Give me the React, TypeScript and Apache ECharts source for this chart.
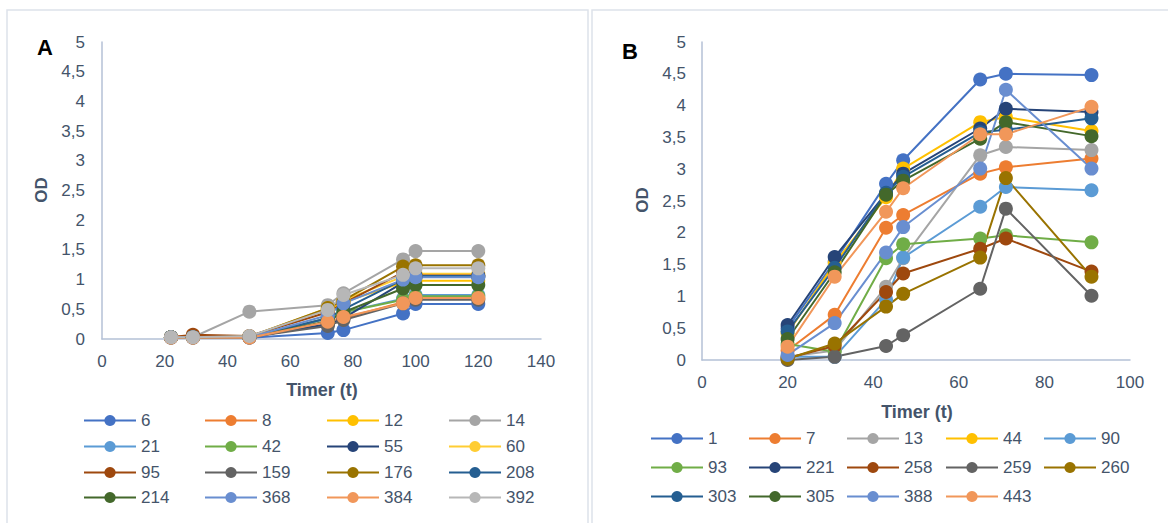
import React, { useEffect, useRef } from "react";
import * as echarts from "echarts";

// ---------- Panel A data ----------
const timesA = [22, 29, 47, 72, 77, 96, 100, 120];
const namesA = ["6", "8", "12", "14", "21", "42", "55", "60", "95", "159", "176", "208", "214", "368", "384", "392"];
const colorsA = ["#4472C4", "#ED7D31", "#FFC000", "#A5A5A5", "#5B9BD5", "#70AD47", "#264478", "#FFCD33", "#9E480E", "#636363", "#997300", "#255E91", "#43682B", "#698ED0", "#F1975A", "#B7B7B7"];
const a6 = [0.02, 0.02, 0.02, 0.1, 0.15, 0.43, 0.59, 0.59];
const a8 = [0.03, 0.06, 0.03, 0.25, 0.35, 0.62, 0.68, 0.68];
const a12 = [0.03, 0.03, 0.04, 0.5, 0.62, 0.95, 0.98, 0.98];
const a14 = [0.03, 0.03, 0.46, 0.57, 0.77, 1.34, 1.48, 1.48];
const a21 = [0.03, 0.03, 0.03, 0.35, 0.45, 0.68, 0.74, 0.74];
const a42 = [0.03, 0.03, 0.03, 0.35, 0.45, 0.66, 0.72, 0.72];
const a55 = [0.03, 0.03, 0.03, 0.25, 0.35, 0.95, 1.05, 1.05];
const a60 = [0.03, 0.03, 0.04, 0.52, 0.65, 1.05, 1.1, 1.1];
const a95 = [0.03, 0.07, 0.05, 0.45, 0.6, 1.12, 1.07, 1.07];
const a159 = [0.03, 0.03, 0.03, 0.22, 0.32, 0.6, 0.66, 0.66];
const a176 = [0.03, 0.03, 0.04, 0.52, 0.65, 1.22, 1.24, 1.24];
const a208 = [0.03, 0.03, 0.03, 0.35, 0.5, 1.0, 1.06, 1.06];
const a214 = [0.03, 0.03, 0.03, 0.3, 0.45, 0.85, 0.91, 0.91];
const a368 = [0.03, 0.03, 0.03, 0.4, 0.6, 1.0, 1.04, 1.04];
const a384 = [0.02, 0.02, 0.02, 0.29, 0.37, 0.6, 0.69, 0.69];
const a392 = [0.03, 0.03, 0.05, 0.49, 0.74, 1.08, 1.19, 1.19];
const valuesA = [a6, a8, a12, a14, a21, a42, a55, a60, a95, a159, a176, a208, a214, a368, a384, a392];

// ---------- Panel B data ----------
const timesB = [20, 31, 43, 47, 65, 71, 91];
const namesB = ["1", "7", "13", "44", "90", "93", "221", "258", "259", "260", "303", "305", "388", "443"];
const colorsB = ["#4472C4", "#ED7D31", "#A5A5A5", "#FFC000", "#5B9BD5", "#70AD47", "#264478", "#9E480E", "#636363", "#997300", "#255E91", "#43682B", "#698ED0", "#F1975A"];
const b1 = [0.5, 1.55, 2.77, 3.14, 4.41, 4.5, 4.48];
const b7 = [0.15, 0.71, 2.08, 2.28, 2.93, 3.03, 3.17];
const b13 = [0.05, 0.15, 1.15, 1.6, 3.22, 3.35, 3.3];
const b44 = [0.42, 1.52, 2.56, 3.01, 3.74, 3.82, 3.6];
const b90 = [0.05, 0.05, 0.95, 1.61, 2.41, 2.72, 2.67];
const b93 = [0.25, 0.13, 1.6, 1.82, 1.91, 1.96, 1.85];
const b221 = [0.55, 1.62, 2.62, 2.93, 3.64, 3.95, 3.9];
const b258 = [0.03, 0.22, 1.07, 1.36, 1.75, 1.91, 1.39];
const b259 = [0.0, 0.05, 0.22, 0.39, 1.12, 2.38, 1.01];
const b260 = [0.02, 0.26, 0.84, 1.04, 1.61, 2.86, 1.31];
const b303 = [0.45, 1.45, 2.63, 2.88, 3.58, 3.62, 3.8];
const b305 = [0.33, 1.38, 2.6, 2.82, 3.48, 3.74, 3.52];
const b388 = [0.08, 0.58, 1.69, 2.09, 3.01, 4.25, 3.01];
const b443 = [0.21, 1.31, 2.33, 2.7, 3.55, 3.55, 3.98];
const valuesB = [b1, b7, b13, b44, b90, b93, b221, b258, b259, b260, b303, b305, b388, b443];

const yTicks = [0, 0.5, 1, 1.5, 2, 2.5, 3, 3.5, 4, 4.5, 5];

const TEXT = "#44546A";
const AXIS = "#B4C1D6";
const FONT = "Liberation Sans, Arial, sans-serif";

export default function App() {
  const ref = useRef<HTMLDivElement>(null);
  useEffect(() => {
    if (!ref.current) return;
    const chart = echarts.init(ref.current, null, { renderer: "svg" });

    const fmt = (v: number) => String(v).replace(".", ",");
    const axisCommon = {
      axisLine: { show: true, lineStyle: { color: AXIS, width: 1.5 } },
      axisTick: { show: false },
      splitLine: { show: false },
      axisLabel: { color: TEXT, fontSize: 17, fontFamily: FONT },
    };

    const series: any[] = [];
    namesA.forEach((n, i) => {
      series.push({
        name: n,
        type: "line",
        xAxisIndex: 0,
        yAxisIndex: 0,
        data: timesA.map((t, j) => [t, valuesA[i][j]]),
        symbol: "circle",
        symbolSize: 14,
        color: colorsA[i],
        lineStyle: { width: 2, color: colorsA[i] },
        itemStyle: { color: colorsA[i] },
      });
    });
    namesB.forEach((n, i) => {
      series.push({
        name: "B" + n,
        type: "line",
        xAxisIndex: 1,
        yAxisIndex: 1,
        data: timesB.map((t, j) => [t, valuesB[i][j]]),
        symbol: "circle",
        symbolSize: 14,
        color: colorsB[i],
        lineStyle: { width: 2, color: colorsB[i] },
        itemStyle: { color: colorsB[i] },
      });
    });

    const legends: any[] = [];
    const colXA = [83, 204, 326, 448];
    const rowYA = [422, 448, 474, 499];
    namesA.forEach((n, i) => {
      legends.push({
        data: [n],
        left: colXA[i % 4],
        top: rowYA[Math.floor(i / 4)] - 10,
        padding: 0,
        itemWidth: 52,
        itemHeight: 14,
        textStyle: { color: TEXT, fontSize: 17, fontFamily: FONT },
      });
    });
    const colXB = [650, 748, 846, 945, 1043];
    const rowYB = [440, 469, 498];
    namesB.forEach((n, i) => {
      legends.push({
        data: ["B" + n],
        formatter: (name: string) => name.slice(1),
        left: colXB[i % 5],
        top: rowYB[Math.floor(i / 5)] - 10,
        padding: 0,
        itemWidth: 52,
        itemHeight: 14,
        textStyle: { color: TEXT, fontSize: 17, fontFamily: FONT },
      });
    });

    chart.setOption({
      animation: false,
      backgroundColor: "#ffffff",
      grid: [
        { left: 102, top: 42, width: 439, height: 297, containLabel: false },
        { left: 702, top: 42, width: 428, height: 318, containLabel: false },
      ],
      xAxis: [
        { ...axisCommon, gridIndex: 0, type: "value", min: 0, max: 140, interval: 20, axisLabel: { ...axisCommon.axisLabel, margin: 14 } },
        { ...axisCommon, gridIndex: 1, type: "value", min: 0, max: 100, interval: 20, axisLabel: { ...axisCommon.axisLabel, margin: 14 } },
      ],
      yAxis: [
        { ...axisCommon, gridIndex: 0, type: "value", min: 0, max: 5, interval: 0.5, axisLabel: { ...axisCommon.axisLabel, margin: 17, formatter: fmt } },
        { ...axisCommon, gridIndex: 1, type: "value", min: 0, max: 5, interval: 0.5, axisLabel: { ...axisCommon.axisLabel, margin: 16, formatter: fmt } },
      ],
      legend: legends,
      series,
      graphic: [
        { type: "rect", shape: { x: 7, y: 10, width: 581, height: 530 }, style: { fill: "none", stroke: "#DDE2EA", lineWidth: 1.5 }, silent: true },
        { type: "rect", shape: { x: 592, y: 10, width: 590, height: 530 }, style: { fill: "none", stroke: "#DDE2EA", lineWidth: 1.5 }, silent: true },
        { type: "text", left: 37, top: 36, style: { text: "A", font: "bold 22px " + FONT, fill: "#000000" } },
        { type: "text", left: 622, top: 40, style: { text: "B", font: "bold 22px " + FONT, fill: "#000000" } },
        { type: "text", x: 41, y: 190, rotation: Math.PI / 2, style: { text: "OD", font: "bold 17px " + FONT, fill: TEXT, align: "center", verticalAlign: "middle" } },
        { type: "text", x: 642, y: 200, rotation: Math.PI / 2, style: { text: "OD", font: "bold 17px " + FONT, fill: TEXT, align: "center", verticalAlign: "middle" } },
        { type: "text", x: 322, y: 390, style: { text: "Timer (t)", font: "bold 18px " + FONT, fill: TEXT, align: "center", verticalAlign: "middle" } },
        { type: "text", x: 917, y: 412, style: { text: "Timer (t)", font: "bold 18px " + FONT, fill: TEXT, align: "center", verticalAlign: "middle" } },
      ],
    });
    return () => chart.dispose();
  }, []);
  return <div ref={ref} style={{ position: "fixed", left: 0, top: 0, width: 1168, height: 523 }} />;
}
